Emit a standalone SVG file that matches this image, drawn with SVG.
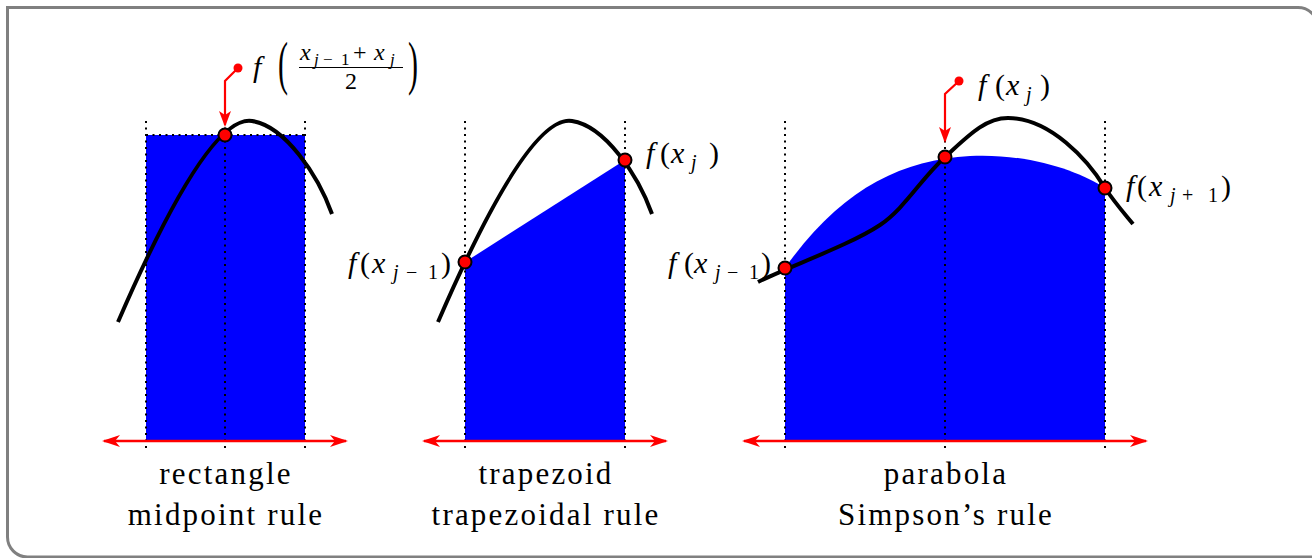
<svg xmlns="http://www.w3.org/2000/svg" width="1312" height="558" viewBox="0 0 1312 558">
<style>
.frame{fill:none;stroke:#808080;stroke-width:3}
.fill{fill:#0000ff;stroke:none}
.dot{fill:none;stroke:#000;stroke-width:2;stroke-dasharray:2 4.5}
.axis{fill:none;stroke:#ff0000;stroke-width:2.5;marker-start:url(#ah);marker-end:url(#ah)}
.curve{fill:none;stroke:#000;stroke-width:4;stroke-linecap:butt;stroke-linejoin:round}
.pt{fill:#ff0000;stroke:#000;stroke-width:2}
.ann{fill:none;stroke:#ff0000;stroke-width:2.2;marker-end:url(#ah2)}
.annd{fill:#ff0000}
text{font-family:'Liberation Serif','Times New Roman',serif;fill:#000}
.m{font-size:30px}
.i{font-style:italic}
.s{font-size:20px}
.n{font-size:24px}
.ns{font-size:17px}
.lbl{font-size:31px;text-anchor:middle;letter-spacing:2.2px}
</style>
<defs>
<marker id="ah" viewBox="0 0 18 12" refX="16" refY="6" markerWidth="18" markerHeight="12" markerUnits="userSpaceOnUse" orient="auto-start-reverse">
<path d="M0,0 L18,6 L0,12 L5,6 z" fill="#ff0000"/>
</marker>
<marker id="ah2" viewBox="0 0 12 16" refX="6" refY="14" markerWidth="12" markerHeight="16" markerUnits="userSpaceOnUse" orient="0">
<path d="M0,0 L6,16 L12,0 L6,4 z" fill="#ff0000"/>
</marker>
</defs>
<path class="frame" d="M1318,600 V27.5 A20,20 0 0 0 1298,7.5 H7.5 V537 A20,20 0 0 0 27.5,557 H1400"/>

<g id="panel-rectangle">
<rect class="fill" x="146" y="135" width="159" height="306"/>
<line class="dot" x1="146" y1="121" x2="146" y2="452"/>
<line class="dot" x1="225" y1="121" x2="225" y2="452"/>
<line class="dot" x1="305" y1="121" x2="305" y2="452"/>
<line class="dot" x1="146" y1="135" x2="305" y2="135"/>
<line class="axis" x1="104" y1="441" x2="346" y2="441"/>
<path class="curve" d="M118,322 C160,225 215,115 252,121 C285,126 318,175 332,214"/>
<circle class="pt" cx="225" cy="135" r="6.5"/>
<text class="lbl" x="226" y="484">rectangle</text>
<text class="lbl" x="226" y="525">midpoint rule</text>
</g>

<g id="panel-trapezoid">
<polygon class="fill" points="465,262 625,160 625,441 465,441"/>
<line class="dot" x1="465" y1="121" x2="465" y2="452"/>
<line class="dot" x1="625" y1="121" x2="625" y2="452"/>
<line class="axis" x1="424" y1="441" x2="666" y2="441"/>
<path class="curve" d="M438,322 C480,225 535,115 572,121 C605,126 638,175 652,214"/>
<circle class="pt" cx="465" cy="262" r="6.5"/>
<circle class="pt" cx="625" cy="160" r="6.5"/>
<text class="lbl" x="546" y="484">trapezoid</text>
<text class="lbl" x="546" y="525">trapezoidal rule</text>
</g>

<g id="panel-parabola">
<path class="fill" d="M785,268 C840,190 900,160 970,156 C1030,153 1080,172 1105,188 L1105,441 L785,441 Z"/>
<line class="dot" x1="785" y1="121" x2="785" y2="452"/>
<line class="dot" x1="945" y1="121" x2="945" y2="452"/>
<line class="dot" x1="1105" y1="121" x2="1105" y2="452"/>
<line class="axis" x1="744" y1="441" x2="1146" y2="441"/>
<path class="curve" d="M758,282 C790,266 850,245 880,225 C905,208 920,180 945,157 C968,136 985,118 1008,118 C1050,118 1088,160 1105,188 C1115,203 1124,213 1133,224"/>
<circle class="pt" cx="785" cy="268" r="6.5"/>
<circle class="pt" cx="945" cy="157" r="6.5"/>
<circle class="pt" cx="1105" cy="188" r="6.5"/>
<text class="lbl" x="946" y="484">parabola</text>
<text class="lbl" x="946" y="525">Simpson’s rule</text>
</g>

<g id="annotations">
<circle class="annd" cx="238" cy="68" r="4.5"/>
<polyline class="ann" points="238,68 225,81 225,125"/>
<circle class="annd" cx="959" cy="81" r="4.5"/>
<polyline class="ann" points="959,81 945,94 945,141"/>
</g>

<g id="label-midpoint">
<text class="m i" x="253" y="77">f</text>
<text class="m" transform="translate(278,83) scale(1,2)">(</text>
<text class="m" transform="translate(408,83) scale(1,2)">)</text>
<text class="n i" x="300" y="60">x</text>
<text class="ns i" x="314" y="65">j</text>
<text class="ns" x="323" y="65">−</text>
<text class="ns" x="341" y="65">1</text>
<text class="n" x="353" y="60">+</text>
<text class="n i" x="374" y="60">x</text>
<text class="ns i" x="390" y="65">j</text>
<line x1="299" y1="67.5" x2="403" y2="67.5" stroke="#000" stroke-width="1.2"/>
<text class="n" x="345" y="89">2</text>
</g>

<g id="label-p2-left">
<text class="m i" x="348" y="273">f</text>
<text class="m" x="360" y="273">(</text>
<text class="m i" x="372" y="273">x</text>
<text class="s i" x="393" y="279">j</text>
<text class="s" x="406" y="279">−</text>
<text class="s" x="428" y="279">1</text>
<text class="m" x="441" y="273">)</text>
</g>

<g id="label-p2-right">
<text class="m i" x="646" y="163">f</text>
<text class="m" x="660" y="163">(</text>
<text class="m i" x="671" y="163">x</text>
<text class="s i" x="691" y="169">j</text>
<text class="m" x="709" y="163">)</text>
</g>

<g id="label-p3-top">
<text class="m i" x="978" y="95">f</text>
<text class="m" x="995" y="95">(</text>
<text class="m i" x="1006" y="95">x</text>
<text class="s i" x="1026" y="101">j</text>
<text class="m" x="1040" y="95">)</text>
</g>

<g id="label-p3-right">
<text class="m i" x="1126" y="196">f</text>
<text class="m" x="1137" y="196">(</text>
<text class="m i" x="1149" y="196">x</text>
<text class="s i" x="1170" y="202">j</text>
<text class="s" x="1182" y="202">+</text>
<text class="s" x="1208" y="202">1</text>
<text class="m" x="1221" y="196">)</text>
</g>

<g id="label-p3-left">
<text class="m i" x="668" y="273">f</text>
<text class="m" x="684" y="273">(</text>
<text class="m i" x="694" y="273">x</text>
<text class="s i" x="715" y="279">j</text>
<text class="s" x="727" y="279">−</text>
<text class="s" x="749" y="279">1</text>
<text class="m" x="761" y="273">)</text>
</g>
</svg>
